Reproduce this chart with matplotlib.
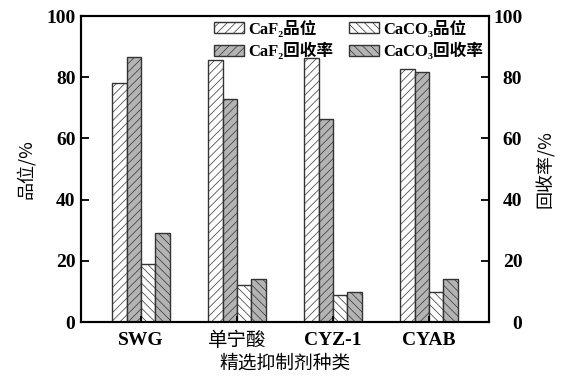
"""
    Grade and recovery of CaF2 / CaCO3 with different depressants
    USAGE
        python plot.py
"""
import numpy as np
import matplotlib
matplotlib.use("Agg")
from matplotlib import pyplot as plt

plt.rcParams['font.family'] = ['Liberation Serif', 'Noto Sans CJK SC', 'DejaVu Sans']
plt.rcParams['hatch.linewidth'] = 0.5

# depressant types on the x axis
categories = ['SWG', '单宁酸', 'CYZ-1', 'CYAB']

# grade and recovery, %
caf2_grade = [78.0, 85.6, 86.2, 82.6]
caf2_recovery = [86.7, 72.8, 66.2, 81.8]
caco3_grade = [19.0, 12.1, 8.8, 9.9]
caco3_recovery = [29.2, 14.1, 9.7, 14.0]

series_labels = ['CaF₂品位', 'CaF₂回收率', 'CaCO₃品位', 'CaCO₃回收率']
y_ticks = [0, 20, 40, 60, 80, 100]


def draw_bars(ax, x, width):
    '''four bars per depressant, hatched like the print version'''
    series = [caf2_grade, caf2_recovery, caco3_grade, caco3_recovery]
    faces = ['white', '#b4b4b4', 'white', '#b4b4b4']
    hatches = ['////', '////', '\\\\\\\\', '\\\\\\\\']
    bars = []
    for i, (vals, fc, ht) in enumerate(zip(series, faces, hatches)):
        b = ax.bar(x + (i - 1.5) * width, vals, width, color=fc,
                   edgecolor='#333333', linewidth=1.0, hatch=ht)
        bars.append(b)
    return bars


def style_axes(ax, ax2, x):
    ax.set_xlim(-0.625, 3.625)
    ax.set_ylim(0, 100)
    ax2.set_ylim(0, 100)
    ax.set_xticks(x)
    ax.set_xticklabels(categories, fontsize=14, fontweight='bold')
    # the Chinese name reads lighter than the Latin ones
    ax.get_xticklabels()[1].set_fontweight('normal')
    ax.set_yticks(y_ticks)
    ax.set_yticklabels([str(t) for t in y_ticks], fontsize=14, fontweight='bold')
    ax2.set_yticks(y_ticks)
    ax2.set_yticklabels([str(t) for t in y_ticks], fontsize=14,
                        fontweight='bold', ha='right')

    ax.tick_params(axis='y', direction='in', length=6, width=1.3, pad=4)
    ax.tick_params(axis='x', direction='in', length=4, width=1.3, pad=7)
    ax2.tick_params(axis='y', direction='in', length=6, width=1.3, pad=24)
    for a in (ax, ax2):
        for s in a.spines.values():
            s.set_linewidth(1.5)

    ax.set_ylabel('品位/%', fontsize=13, family='Noto Sans CJK SC', labelpad=8)
    ax2.set_ylabel('回收率/%', fontsize=13, family='Noto Sans CJK SC', labelpad=10)
    ax.set_xlabel('精选抑制剂种类', fontsize=13.5, family='Noto Sans CJK SC', labelpad=2)


if __name__ == '__main__':
    fig = plt.figure(figsize=(5.61, 3.76), dpi=100)
    ax = fig.add_axes([0.1444, 0.1436, 0.7273, 0.8138])
    ax2 = ax.twinx()

    x = np.arange(len(categories))
    bars = draw_bars(ax, x, 0.15)
    style_axes(ax, ax2, x)

    fig.legend(bars, series_labels, ncol=2, frameon=False,
               loc='upper left', bbox_to_anchor=(0.366, 0.967),
               bbox_transform=fig.transFigure, borderpad=0,
               prop={'size': 12, 'weight': 'bold'},
               handlelength=1.8, handleheight=0.65, handletextpad=0.3,
               columnspacing=0.9, labelspacing=0.3)

    fig.savefig('out.png', dpi=100)
